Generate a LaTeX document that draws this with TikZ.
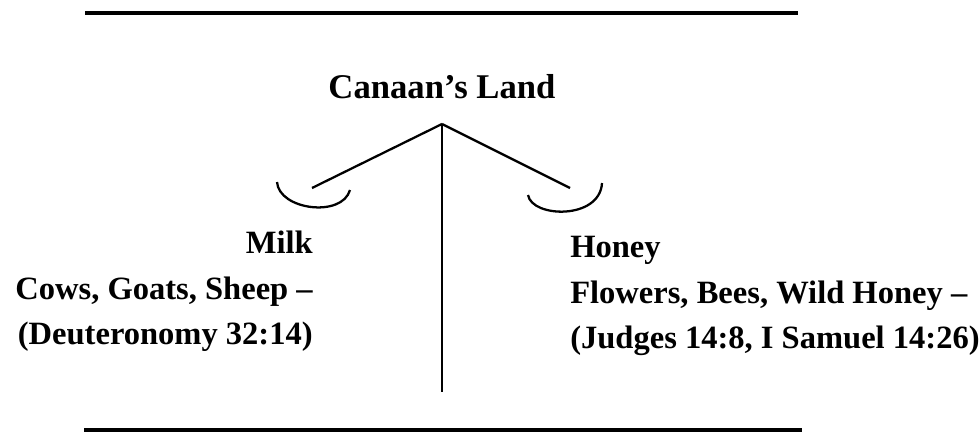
\documentclass[tikz,border=0pt]{standalone}
\usepackage{fontspec}
\setmainfont{Liberation Serif}
\usetikzlibrary{positioning}
\begin{document}
\begin{tikzpicture}
	[x=0.75pt, y=-0.75pt,
	rule/.style = {line width=3pt},
	arm/.style = {line width=1.7pt},
	word/.style = {inner sep=0pt, font=\fontsize{24.4}{29}\selectfont\bfseries},
	title/.style = {inner sep=0pt, font=\fontsize{26}{31}\selectfont\bfseries}]
\useasboundingbox (0,0) rectangle (979,432);
% top and bottom rules
\draw[rule] (85,13) -- (798,13);
\draw[rule] (84,430) -- (802,430);
\node[title, anchor=base] (land) at (442,98) {Canaan’s Land};
\coordinate (top) at (442,124);
\coordinate (stem) at (442,392);
\coordinate (milkend) at (312,188);
\coordinate (honeyend) at (570,188);
\draw[arm] (top) -- (stem);
\draw[arm] (top) -- (milkend);
\draw[arm] (top) -- (honeyend);
% the two pans
\draw[arm] (277,182) .. controls (279,210) and (342,218) .. (350,190);
\draw[arm] (528,195) .. controls (532,218) and (600,220) .. (602,183);
\node[word, anchor=base east] (milk) at (313,253) {Milk};
\node[word, anchor=base east] (cows) at (313,299) {Cows, Goats, Sheep –};
\node[word, anchor=base east] (deut) at (313,344) {(Deuteronomy 32:14)};
\node[word, anchor=base west] (honey) at (570,257) {Honey};
\node[word, anchor=base west] (flowers) at (570,303) {Flowers, Bees, Wild Honey –};
\node[word, anchor=base west] (judges) at (570,348) {(Judges 14:8, I Samuel 14:26)};
\end{tikzpicture}
\end{document}
